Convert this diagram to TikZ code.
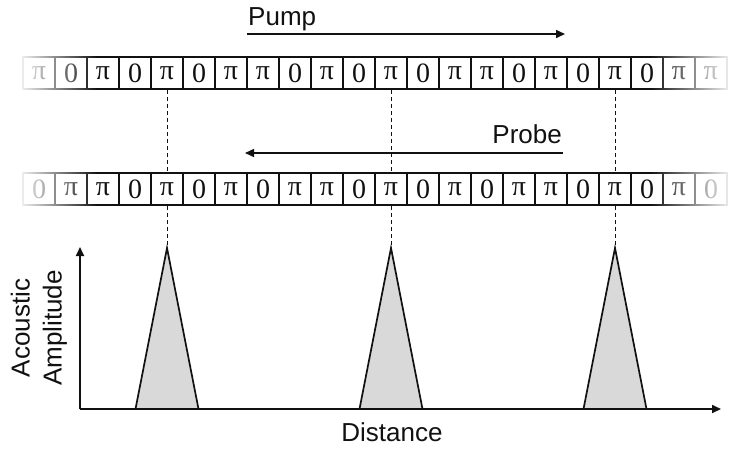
\documentclass[tikz,border=0pt]{standalone}
\usepackage{fontspec}
\setmainfont{Liberation Sans}
\newfontfamily\cellfont{Liberation Serif}
\usetikzlibrary{arrows.meta,fadings}
\definecolor{PkInk}{HTML}{111111}
\definecolor{PkFill}{HTML}{D9D9D9}
\tikzfading[name=fadeleft,left color=transparent!0,right color=transparent!100]
\tikzfading[name=faderight,left color=transparent!100,right color=transparent!0]
\tikzset{
  cell/.style={draw=PkInk,line width=1.6pt,minimum width=32pt,minimum height=32pt,
               inner sep=0pt,text=PkInk,font=\cellfont\fontsize{28}{28}\selectfont},
  flow/.style={-{Triangle[length=9pt,width=8pt]},PkInk,line width=1.5pt},
  axis/.style={flow,line width=1.7pt},
  guide/.style={PkInk,line width=0.8pt,dash pattern=on 4pt off 3pt},
  peak/.style={draw=PkInk,fill=PkFill,line width=1.7pt},
  label/.style={text=PkInk,font=\fontsize{26}{32}\selectfont,inner sep=0pt},
}

\begin{document}
\begin{tikzpicture}[x=1pt,y=-1pt]
  \useasboundingbox (0,0) rectangle (735,448);

  % phase-coded cells, pump row then probe row
  \foreach \s [count=\i from 0] in {π,0,π,0,π,0,π,π,0,π,0,π,0,π,π,0,π,0,π,0,π,π}
    \node[cell] (top-\i) at (39+32*\i,73) {\s};
  \foreach \s [count=\i from 0] in {0,π,π,0,π,0,π,0,π,π,0,π,0,π,0,π,π,0,π,0,π,0}
    \node[cell] (bot-\i) at (39+32*\i,189) {\s};

  % soft ends of both rows
  \fill[white,path fading=fadeleft] (16,50) rectangle (97,214);
  \fill[white,path fading=faderight] (650,50) rectangle (735,214);

  % beam directions
  \node[label,anchor=base west] (pump) at (248,25) {Pump};
  \coordinate (pump-a) at (247,34);
  \coordinate (pump-b) at (565,34);
  \draw[flow] (pump-a) -- (pump-b);
  \node[label,anchor=base east] (probe) at (562,143) {Probe};
  \coordinate (probe-a) at (563,153);
  \coordinate (probe-b) at (245,153);
  \draw[flow] (probe-a) -- (probe-b);

  % correlation peaks
  \foreach \k in {4,11,18} {
    \pgfmathsetmacro\cx{39+32*\k}
    \coordinate (apex-\k) at (\cx,248);
    \draw[peak] (\cx-31.5,409) -- (apex-\k) -- (\cx+31.5,409);
    \draw[guide] (top-\k) -- (bot-\k);
    \draw[guide] (bot-\k) -- (apex-\k);
  }

  % axes
  \coordinate (origin) at (80,409);
  \coordinate (ytip) at (80,247);
  \coordinate (xtip) at (721,409);
  \draw[axis] (origin) -- (ytip);
  \draw[axis] (origin) -- (xtip);
  \node[label,rotate=90,align=center] (ylab) at (39,328) {Acoustic\\Amplitude};
  \node[label] (xlab) at (392,432) {Distance};
\end{tikzpicture}
\end{document}
